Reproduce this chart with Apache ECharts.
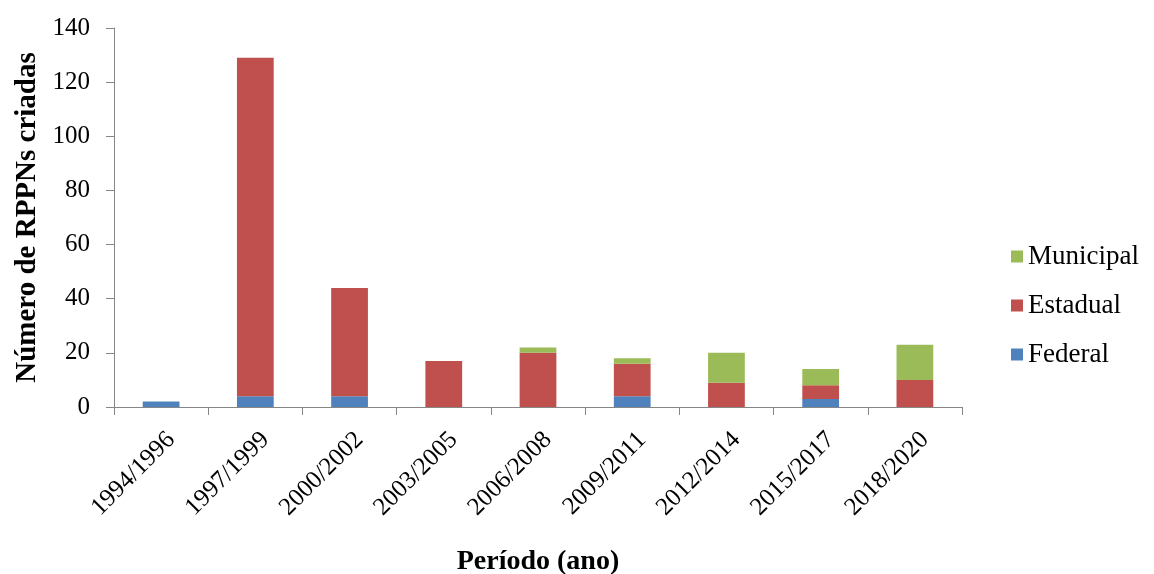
<!DOCTYPE html>
<html>
<head>
<meta charset="utf-8">
<script src="https://cdn.jsdelivr.net/npm/echarts@6/dist/echarts.min.js"></script>
<style>
  html, body { margin: 0; padding: 0; background: #fff; }
  #chart { width: 1154px; height: 574px; }
</style>
</head>
<body>
<div id="chart"></div>
<script>
// Periods (three-year windows)
const categories = ['1994/1996', '1997/1999', '2000/2002', '2003/2005', '2006/2008',
                    '2009/2011', '2012/2014', '2015/2017', '2018/2020'];
// RPPNs created per period, by sphere of government
const federal   = [2, 4, 4, 0, 0, 4, 0, 3, 0];
const estadual  = [0, 125, 40, 17, 20, 12, 9, 5, 10];
const municipal = [0, 0, 0, 0, 2, 2, 11, 6, 13];
// Value axis
const yMin = 0, yMax = 140, yStep = 20;

const serif = "'Liberation Serif', 'Times New Roman', serif";
const axisGray = '#868686';

// Plot area and a small rightward nudge for the slanted period labels
const plot = { left: 114, right: 192, top: 28, bottom: 167 };
const labelNudge = 10;

const chart = echarts.init(document.getElementById('chart'), null, { renderer: 'canvas' });

function barSeries(name, data, color) {
  return {
    name: name,
    type: 'bar',
    stack: 'total',
    data: data,
    barWidth: '39%',
    itemStyle: { color: color },
    emphasis: { disabled: true }
  };
}

chart.setOption({
  animation: false,
  backgroundColor: '#ffffff',
  grid: [
    Object.assign({ containLabel: false, outerBoundsMode: 'none' }, plot),
    {
      containLabel: false, outerBoundsMode: 'none',
      left: plot.left + labelNudge, right: plot.right - labelNudge,
      top: plot.top, bottom: plot.bottom
    }
  ],
  legend: {
    orient: 'vertical',
    left: 1006,
    top: 238,
    itemWidth: 12,
    itemHeight: 12,
    itemGap: 22,
    itemStyle: { borderWidth: 0 },
    icon: 'rect',
    data: ['Municipal', 'Estadual', 'Federal'],
    textStyle: { fontFamily: serif, fontSize: 27, color: '#000' }
  },
  xAxis: [
    {
      type: 'category',
      gridIndex: 0,
      data: categories,
      name: 'Período (ano)',
      nameLocation: 'middle',
      nameGap: 141,
      nameTextStyle: { fontFamily: serif, fontSize: 28, fontWeight: 'bold', color: '#000' },
      axisLine: { lineStyle: { color: axisGray, width: 1 } },
      axisTick: { show: true, length: 8, lineStyle: { color: axisGray } },
      axisLabel: { show: false },
      splitLine: { show: false }
    },
    {
      // period labels only
      type: 'category',
      gridIndex: 1,
      data: categories,
      axisLine: { show: false },
      axisTick: { show: false },
      axisLabel: { rotate: 45, margin: 29, fontFamily: serif, fontSize: 25, color: '#000', interval: 0 },
      splitLine: { show: false }
    }
  ],
  yAxis: [
    {
      type: 'value',
      gridIndex: 0,
      min: yMin,
      max: yMax,
      interval: yStep,
      name: 'Número de RPPNs criadas',
      nameLocation: 'middle',
      nameRotate: 90,
      nameGap: 66,
      nameTextStyle: { fontFamily: serif, fontSize: 29, fontWeight: 'bold', color: '#000' },
      axisLine: { show: true, lineStyle: { color: axisGray, width: 1 } },
      axisTick: { show: true, inside: false, length: 8, lineStyle: { color: axisGray } },
      axisLabel: { margin: 24, fontFamily: serif, fontSize: 25, color: '#000' },
      splitLine: { show: false }
    },
    {
      type: 'value',
      gridIndex: 1,
      show: false,
      min: yMin,
      max: yMax
    }
  ],
  series: [
    barSeries('Federal', federal, '#4f81bd'),
    barSeries('Estadual', estadual, '#c0504d'),
    barSeries('Municipal', municipal, '#9bbb59')
  ]
});
</script>
</body>
</html>
